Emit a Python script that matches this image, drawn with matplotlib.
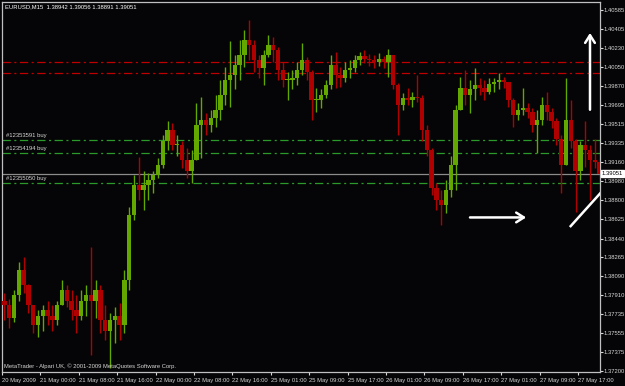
import numpy as np
import matplotlib
matplotlib.use("Agg")
import matplotlib.pyplot as plt
import matplotlib.transforms as mtransforms

# EURUSD, hourly bars (20 May 16:00 -> 27 May 20:00)
first_open = 1.3786
highs = [1.3793, 1.3788, 1.3796, 1.3822, 1.3827, 1.3802, 1.3782, 1.3777, 1.3782, 1.3786,
         1.3782, 1.3786, 1.3805, 1.3801, 1.3796, 1.3791, 1.3796, 1.3801, 1.3836, 1.3805,
         1.3801, 1.3782, 1.3774, 1.3780, 1.3784, 1.3815, 1.3874, 1.3904, 1.3921, 1.3908,
         1.3906, 1.3908, 1.3920, 1.3941, 1.3954, 1.3953, 1.3941, 1.3936, 1.3929, 1.3927,
         1.3971, 1.3977, 1.3962, 1.3965, 1.3979, 1.3993, 1.4005, 1.4029, 1.4016, 1.4030,
         1.4040, 1.4049, 1.4030, 1.4016, 1.4021, 1.4035, 1.4033, 1.4024, 1.4010, 1.4000,
         1.4002, 1.4010, 1.4028, 1.4014, 1.4002, 1.3985, 1.3984, 1.3993, 1.4016, 1.4019,
         1.4005, 1.4010, 1.4012, 1.4016, 1.4019, 1.4021, 1.4017, 1.4016, 1.4018, 1.4015,
         1.4022, 1.4016, 1.3990, 1.3981, 1.3985, 1.3982, 1.3998, 1.3979, 1.3951, 1.3929,
         1.3896, 1.3890, 1.3899, 1.3922, 1.3969, 1.3996, 1.4002, 1.3993, 1.4004, 1.3995,
         1.3993, 1.3995, 1.3995, 1.3999, 1.3996, 1.3991, 1.3976, 1.3971, 1.3985, 1.3971,
         1.3967, 1.3965, 1.3977, 1.3982, 1.3967, 1.3957, 1.3941, 1.3995, 1.3974, 1.3938,
         1.3936, 1.3954, 1.3932, 1.3938, 1.3920]
lows = [1.3768, 1.3760, 1.3766, 1.3786, 1.3793, 1.3774, 1.3756, 1.3752, 1.3758, 1.3763,
        1.3758, 1.3763, 1.3782, 1.3780, 1.3768, 1.3756, 1.3768, 1.3772, 1.3735, 1.3770,
        1.3756, 1.3749, 1.3723, 1.3746, 1.3749, 1.3756, 1.3796, 1.3862, 1.3880, 1.3871,
        1.3880, 1.3887, 1.3901, 1.3910, 1.3927, 1.3927, 1.3922, 1.3910, 1.3901, 1.3896,
        1.3918, 1.3920, 1.3941, 1.3944, 1.3949, 1.3955, 1.3969, 1.3968, 1.3984, 1.3993,
        1.4005, 1.4012, 1.4000, 1.3995, 1.3988, 1.4014, 1.4010, 1.3993, 1.3986, 1.3974,
        1.3984, 1.3988, 1.3998, 1.3993, 1.3955, 1.3963, 1.3967, 1.3976, 1.3984, 1.3985,
        1.3986, 1.3991, 1.3995, 1.4000, 1.4007, 1.4009, 1.4006, 1.4004, 1.4006, 1.4004,
        1.3996, 1.3984, 1.3941, 1.3965, 1.3969, 1.3968, 1.3972, 1.3936, 1.3922, 1.3885,
        1.3871, 1.3857, 1.3868, 1.3883, 1.3890, 1.3965, 1.3969, 1.3962, 1.3974, 1.3979,
        1.3974, 1.3980, 1.3982, 1.3984, 1.3985, 1.3968, 1.3949, 1.3955, 1.3960, 1.3957,
        1.3944, 1.3924, 1.3951, 1.3955, 1.3948, 1.3932, 1.3887, 1.3913, 1.3929, 1.3869,
        1.3899, 1.3911, 1.3880, 1.3910, 1.3887]
closes = [1.3782, 1.3770, 1.3791, 1.3815, 1.3801, 1.3782, 1.3763, 1.3772, 1.3777, 1.3772,
          1.3768, 1.3782, 1.3796, 1.3786, 1.3777, 1.3772, 1.3786, 1.3791, 1.3786, 1.3796,
          1.3768, 1.3758, 1.3768, 1.3772, 1.3763, 1.3805, 1.3866, 1.3894, 1.3890, 1.3894,
          1.3899, 1.3904, 1.3913, 1.3936, 1.3946, 1.3932, 1.3932, 1.3918, 1.3908, 1.3918,
          1.3951, 1.3955, 1.3951, 1.3957, 1.3965, 1.3979, 1.3993, 1.3998, 1.4007, 1.4016,
          1.4030, 1.4026, 1.4012, 1.4004, 1.4016, 1.4026, 1.4021, 1.4002, 1.3993, 1.3993,
          1.3995, 1.4002, 1.4012, 1.4000, 1.3974, 1.3974, 1.3979, 1.3988, 1.4007, 1.3998,
          1.3995, 1.4002, 1.4004, 1.4012, 1.4015, 1.4013, 1.4012, 1.4010, 1.4013, 1.4010,
          1.4016, 1.3988, 1.3969, 1.3976, 1.3974, 1.3977, 1.3976, 1.3946, 1.3927, 1.3892,
          1.3880, 1.3876, 1.3890, 1.3913, 1.3965, 1.3985, 1.3979, 1.3984, 1.3988, 1.3985,
          1.3982, 1.3989, 1.3991, 1.3993, 1.3991, 1.3974, 1.3960, 1.3965, 1.3967, 1.3963,
          1.3951, 1.3955, 1.3969, 1.3963, 1.3954, 1.3938, 1.3913, 1.3955, 1.3936, 1.3908,
          1.3932, 1.3927, 1.3918, 1.3916, 1.3905]

price_ticks = [1.40585, 1.40405, 1.40230, 1.40050, 1.39870, 1.39695, 1.39515, 1.39335,
               1.39160, 1.38980, 1.38800, 1.38625, 1.38440, 1.38265, 1.38090, 1.37910,
               1.37735, 1.37555, 1.37375, 1.37200]
time_labels = ["20 May 2009", "21 May 00:00", "21 May 08:00", "21 May 16:00",
               "22 May 00:00", "22 May 08:00", "22 May 16:00", "25 May 01:00",
               "25 May 09:00", "25 May 17:00", "26 May 01:00", "26 May 09:00",
               "26 May 17:00", "27 May 01:00", "27 May 09:00", "27 May 17:00"]
bars_per_label = 8

stop_levels = [1.40098, 1.39994]
order_levels = [1.39366, 1.39244, 1.38963]
order_names = ["#12353591 buy", "#12354194 buy", "#12355050 buy"]
bid = 1.39051
header = "EURUSD,M15  1.38942 1.39056 1.38891 1.39051"
footer = "MetaTrader - Alpari UK, \u00a9 2001-2009 MetaQuotes Software Corp."

# arrows drawn by hand on the chart: (bar0, price0, bar1, price1)
arrow_right = (97.0, 1.3864, 108.7, 1.3864)
arrow_up = (122.0, 1.3965, 122.0, 1.4037)
trend_line = (117.8, 1.3855, 124.4, 1.3888)

BG = "#050406"
FG = "#d8d8d8"
GREEN = "#62a800"
RED = "#b00000"
FS = 4.2

plt.rcParams["font.family"] = ["Liberation Sans", "DejaVu Sans"]
plt.rcParams["lines.scale_dashes"] = False

W, H = 625, 386
fig = plt.figure(figsize=(W / 100, H / 100), dpi=100, facecolor=BG)
ax = fig.add_axes([2 / W, 1 - 372 / H, 598 / W, 370 / H], facecolor=BG)

highs = np.array(highs)
lows = np.array(lows)
closes = np.array(closes)
opens = np.r_[first_open, closes[:-1]]
x = np.arange(len(closes))
colors = np.where(closes >= opens, GREEN, RED)

ax.vlines(x, np.minimum(lows, np.minimum(opens, closes)),
          np.maximum(highs, np.maximum(opens, closes)),
          colors=colors, lw=1.0, zorder=3)
body = closes - opens
body = np.where(np.abs(body) < 0.00008, np.sign(body + 1e-9) * 0.00008, body)
ax.bar(x, body, bottom=opens, width=0.9, color=colors, linewidth=0, zorder=3)

ax.set_xlim(-0.5, -0.5 + 598 / 4.8)
ax.set_ylim(1.37191, 1.40660)

# levels
for lv in stop_levels:
    ax.axhline(lv, color="#c00000", lw=0.9, dashes=(6, 2.5, 1.5, 2.5), zorder=2)
for lv, name in zip(order_levels, order_names):
    ax.axhline(lv, color="#2a9a2a", lw=0.9, dashes=(6, 2.5, 1.5, 2.5), zorder=2)
    ax.text(0.3, lv + 0.00018, name, color=FG, fontsize=FS,
            va="bottom", ha="left", zorder=4)
ax.axhline(bid, color="#8c8c8c", lw=0.9, zorder=2)

# hand-drawn arrows
ax.annotate("", xy=arrow_right[2:], xytext=arrow_right[:2],
            arrowprops=dict(arrowstyle="->,head_length=0.55,head_width=0.35",
                            color="white", lw=1.8, shrinkA=0, shrinkB=0), zorder=5)
ax.annotate("", xy=arrow_up[2:], xytext=arrow_up[:2],
            arrowprops=dict(arrowstyle="->,head_length=0.55,head_width=0.35",
                            color="white", lw=1.8, shrinkA=0, shrinkB=0), zorder=5)
ax.plot(trend_line[::2], trend_line[1::2], color="white", lw=1.8, zorder=5,
        solid_capstyle="butt")

# axes styling
for side in ["left", "right", "top", "bottom"]:
    ax.spines[side].set_color("#c0c0c0")
    ax.spines[side].set_linewidth(0.9)

ax.yaxis.tick_right()
ax.set_yticks(price_ticks)
ax.set_yticklabels([f"{p:.5f}" for p in price_ticks])
ax.tick_params(axis="y", colors=FG, labelsize=FS, length=2.0, width=0.8, pad=0.8)

ax.set_xticks(np.arange(len(time_labels)) * bars_per_label - 0.5)
ax.set_xticklabels(time_labels, ha="left")
ax.tick_params(axis="x", colors=FG, labelsize=FS, length=2.5, width=0.8, pad=1.5)

# current price tag
tr = mtransforms.blended_transform_factory(ax.transAxes, ax.transData)
ax.text(1.003, bid, f"{bid:.5f}", transform=tr, color="black", fontsize=FS,
        va="center", ha="left", zorder=6, clip_on=False,
        bbox=dict(boxstyle="square,pad=0.15", fc="white", ec="white"))

fig.text(5 / W, 1 - 7 / H, header, color="white", fontsize=FS, va="center", ha="left")
fig.text(4 / W, 1 - 366 / H, footer, color=FG, fontsize=FS, va="center", ha="left")

fig.savefig("out.png", dpi=100, facecolor=BG)
